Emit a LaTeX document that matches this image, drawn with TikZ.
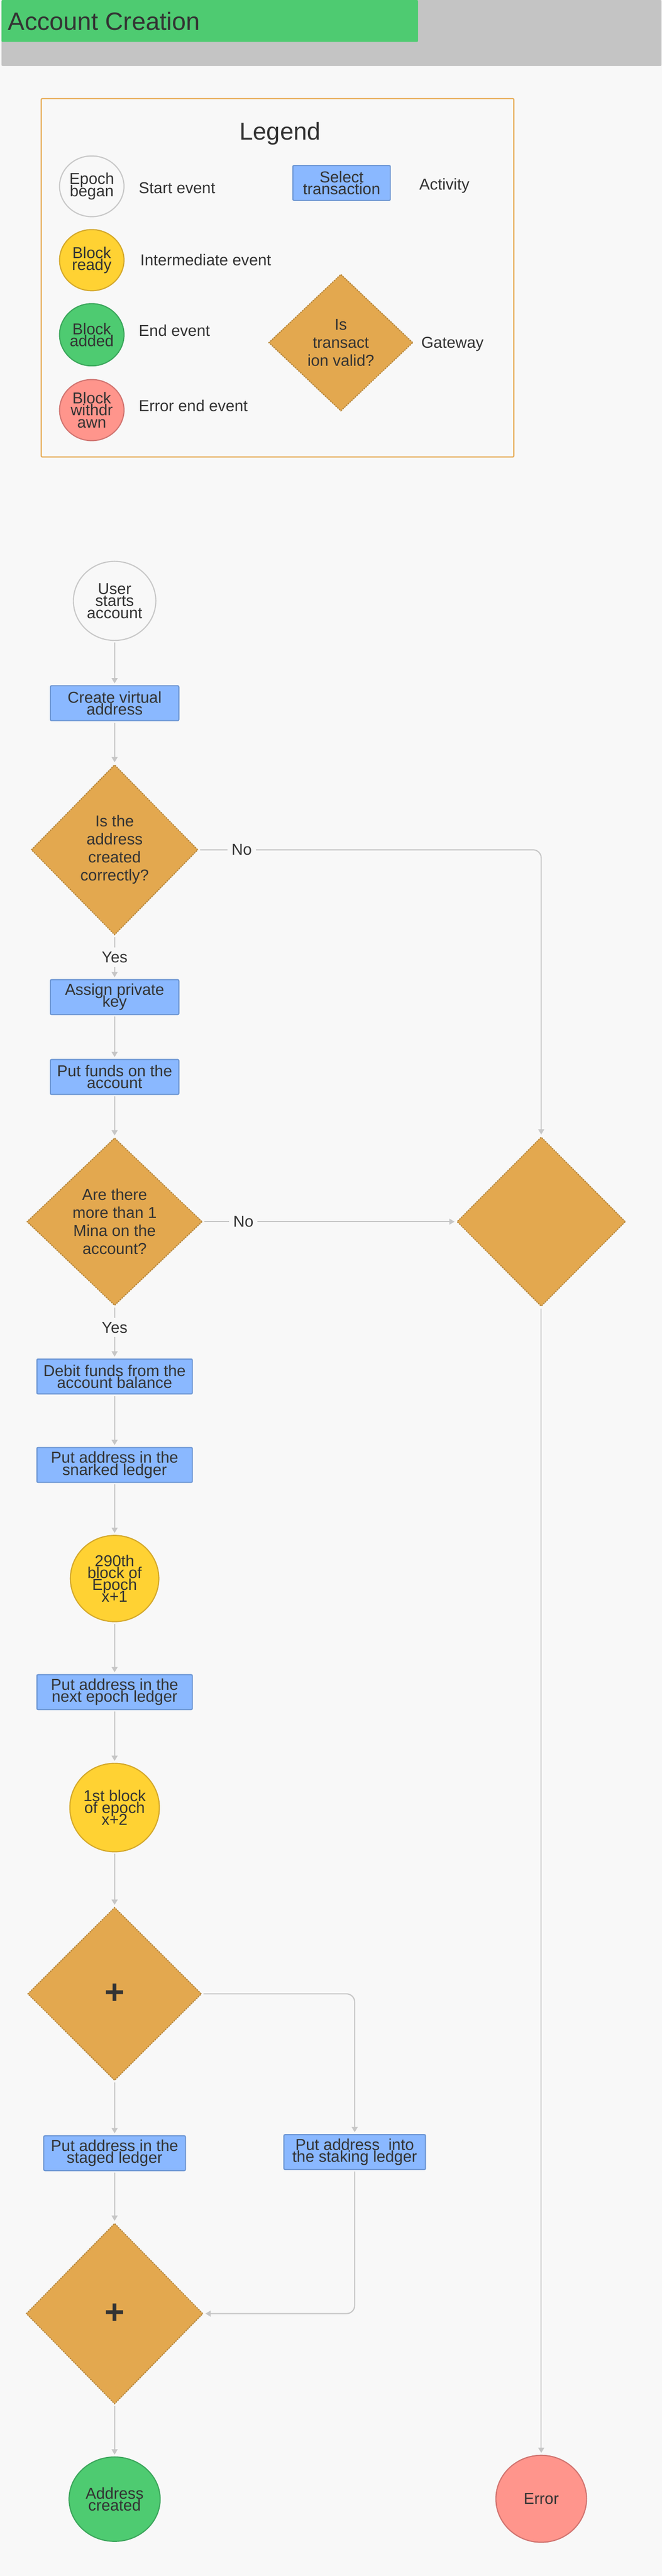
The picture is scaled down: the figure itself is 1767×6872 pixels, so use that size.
\documentclass[tikz,border=0pt]{standalone}
\usepackage{fontspec}
\setmainfont{Liberation Sans}
\usetikzlibrary{shapes.geometric,arrows.meta}
\definecolor{bg}{HTML}{F8F8F8}
\definecolor{ink}{HTML}{333333}
\definecolor{titlegreen}{HTML}{4ECB71}
\definecolor{titlegray}{HTML}{C4C4C4}
\definecolor{legline}{HTML}{E6A74A}
\definecolor{actfill}{HTML}{8AB8FF}
\definecolor{actline}{HTML}{6B95D3}
\definecolor{gatefill}{HTML}{E3A84F}
\definecolor{gateline}{HTML}{B9893E}
\definecolor{startline}{HTML}{C8C8C8}
\definecolor{midfill}{HTML}{FFD233}
\definecolor{midline}{HTML}{D4A82A}
\definecolor{endfill}{HTML}{4ECB71}
\definecolor{endline}{HTML}{3BA65B}
\definecolor{errfill}{HTML}{FF958C}
\definecolor{errline}{HTML}{D17470}
\definecolor{wire}{HTML}{C6C6C6}
\newcommand\tightlines{\lineskiplimit=-100pt\relax}
\lineskiplimit=-100pt

\begin{document}
\begin{tikzpicture}[x=0.1mm,y=-0.1mm,
        txt/.style={text=ink,font={\fontsize{12}{9.1}\selectfont\tightlines},align=center,inner sep=0},
        activity/.style={txt,rectangle,draw=actline,fill=actfill,line width=0.3mm,rounded corners=0.3mm,minimum width=#1,minimum height=9.3mm},
        gate/.style 2 args={txt,diamond,draw=gateline,fill=gatefill,line width=0.3mm,dash pattern=on 0.4mm off 0.25mm,minimum width=#1,minimum height=#2,font={\fontsize{12}{13.7}\selectfont}},
        event/.style 2 args={txt,ellipse,line width=0.3mm,minimum width=#1,minimum height=#2},
        startev/.style={draw=startline,fill=bg},
        midev/.style={draw=midline,fill=midfill},
        endev/.style={draw=endline,fill=endfill},
        errev/.style={draw=errline,fill=errfill},
        caption/.style={text=ink,font={\fontsize{12}{14}\selectfont},anchor=base west,inner sep=0},
        flow/.style={draw=wire,line width=0.3mm,-{Triangle[length=1.4mm,width=1.6mm]},shorten >=0.5mm,shorten <=0.4mm},
        lbl/.style={fill=bg,text=ink,font={\fontsize{12}{14}\selectfont},inner sep=1.1mm}]
            % Page and title bar
            \useasboundingbox (0,0) rectangle (1767,6872);
            \fill[bg] (0,0) rectangle (1767,6872);
            \fill[titlegray,rounded corners=0.3mm] (4,0) rectangle (1766,176);
            \fill[titlegreen,rounded corners=0.3mm] (4,0) rectangle (1116,112);
            \node[text=ink,font={\fontsize{19}{19}\selectfont},anchor=base west,inner sep=0] (title) at (21,80) {Account Creation};

            % Legend
            \draw[legline,line width=0.3mm,rounded corners=0.3mm] (110,263) rectangle (1372,1219);
            \node[text=ink,font={\fontsize{18.5}{18.5}\selectfont},anchor=base,inner sep=0] (legtitle) at (748,373) {Legend};
            \node[event={17.2mm}{16.2mm},startev] (lgstart) at (245,497) {Epoch\\began};
            \node[event={17.2mm}{16.3mm},midev] (lgmid) at (245,694) {Block\\ready};
            \node[event={17.2mm}{16.6mm},endev] (lgend) at (245,893) {Block\\added};
            \node[event={17.2mm}{16.3mm},errev] (lgerr) at (245,1094) {Block\\withdr\\awn};
            \node[caption] (lgstarttxt) at (370,516) {Start event};
            \node[caption] (lgmidtxt) at (374,709) {Intermediate event};
            \node[caption] (lgendtxt) at (370,897) {End event};
            \node[caption] (lgerrtxt) at (370,1098) {Error end event};
            \node[activity=26mm] (lgact) at (912,488) {Select\\transaction};
            \node[caption] (lgacttxt) at (1119,506) {Activity};
            \node[gate={38.5mm}{36.5mm}] (lggate) at (910,914) {Is\\transact\\ion valid?};
            \node[caption] (lggatetxt) at (1124,929) {Gateway};

            % Main flow
            \node[event={22mm}{21.1mm},startev] (start) at (306,1603) {User\\starts\\account};
            \node[activity=34.3mm] (virtaddr) at (306,1876) {Create virtual\\address};
            \node[gate={44.5mm}{45.4mm}] (correct) at (306,2267) {Is the\\address\\created\\correctly?};
            \node[activity=34.3mm] (privkey) at (306,2660) {Assign private\\key};
            \node[activity=34.3mm] (funds) at (306,2873) {Put funds on the\\account};
            \node[gate={46.8mm}{44.7mm}] (mina) at (306,3259) {Are there\\more than 1\\Mina on the\\account?};
            \node[gate={45mm}{45.2mm}] (errgate) at (1445,3259) {};
            \node[activity=41.5mm] (debit) at (306,3672) {Debit funds from the\\account balance};
            \node[activity=41.5mm] (snarked) at (306,3908) {Put address in the\\snarked ledger};
            \node[event={23.6mm}{23mm},midev] (epocha) at (306,4211) {290th\\block of\\Epoch\\x+1};
            \node[activity=41.5mm] (nextledger) at (306,4514) {Put address in the\\next epoch ledger};
            \node[event={23.9mm}{23.6mm},midev] (epochb) at (306,4822) {1st block\\of epoch\\x+2};
            \node[gate={46.4mm}{46.2mm}] (plusa) at (306,5319) {\fontsize{26}{26}\selectfont\bfseries +};
            \node[activity=37.8mm] (staged) at (306,5744) {Put address in the\\staged ledger};
            \node[activity=37.8mm] (staking) at (947,5741) {Put address\ \ into\\the staking ledger};
            \node[gate={47.2mm}{48.2mm}] (plusb) at (306,6172) {\fontsize{26}{26}\selectfont\bfseries +};
            \node[event={24.3mm}{22.5mm},endev] (created) at (306,6667) {Address\\created};
            \node[event={24.2mm}{23.2mm},errev] (error) at (1445,6666) {Error};

            % Connectors
            \draw[flow] (start) -- (virtaddr);
            \draw[flow] (virtaddr) -- (correct);
            \draw[flow] (correct) -- node[lbl]{Yes} (privkey);
            \draw[flow,rounded corners=2.2mm] (correct.east) -| node[lbl,pos=0.063]{No} (errgate.north);
            \draw[flow] (privkey) -- (funds);
            \draw[flow] (funds) -- (mina);
            \draw[flow] (mina) -- node[lbl,pos=0.41]{Yes} (debit);
            \draw[flow] (mina.east) -- node[lbl,pos=0.16]{No} (errgate.west);
            \draw[flow] (errgate) -- (error);
            \draw[flow] (debit) -- (snarked);
            \draw[flow] (snarked) -- (epocha);
            \draw[flow] (epocha) -- (nextledger);
            \draw[flow] (nextledger) -- (epochb);
            \draw[flow] (epochb) -- (plusa);
            \draw[flow] (plusa) -- (staged);
            \draw[flow,rounded corners=2.2mm] (plusa.east) -| (staking.north);
            \draw[flow] (staged) -- (plusb);
            \draw[flow,rounded corners=2.2mm] (staking.south) |- (plusb.east);
            \draw[flow] (plusb) -- (created);
\end{tikzpicture}
\end{document}
